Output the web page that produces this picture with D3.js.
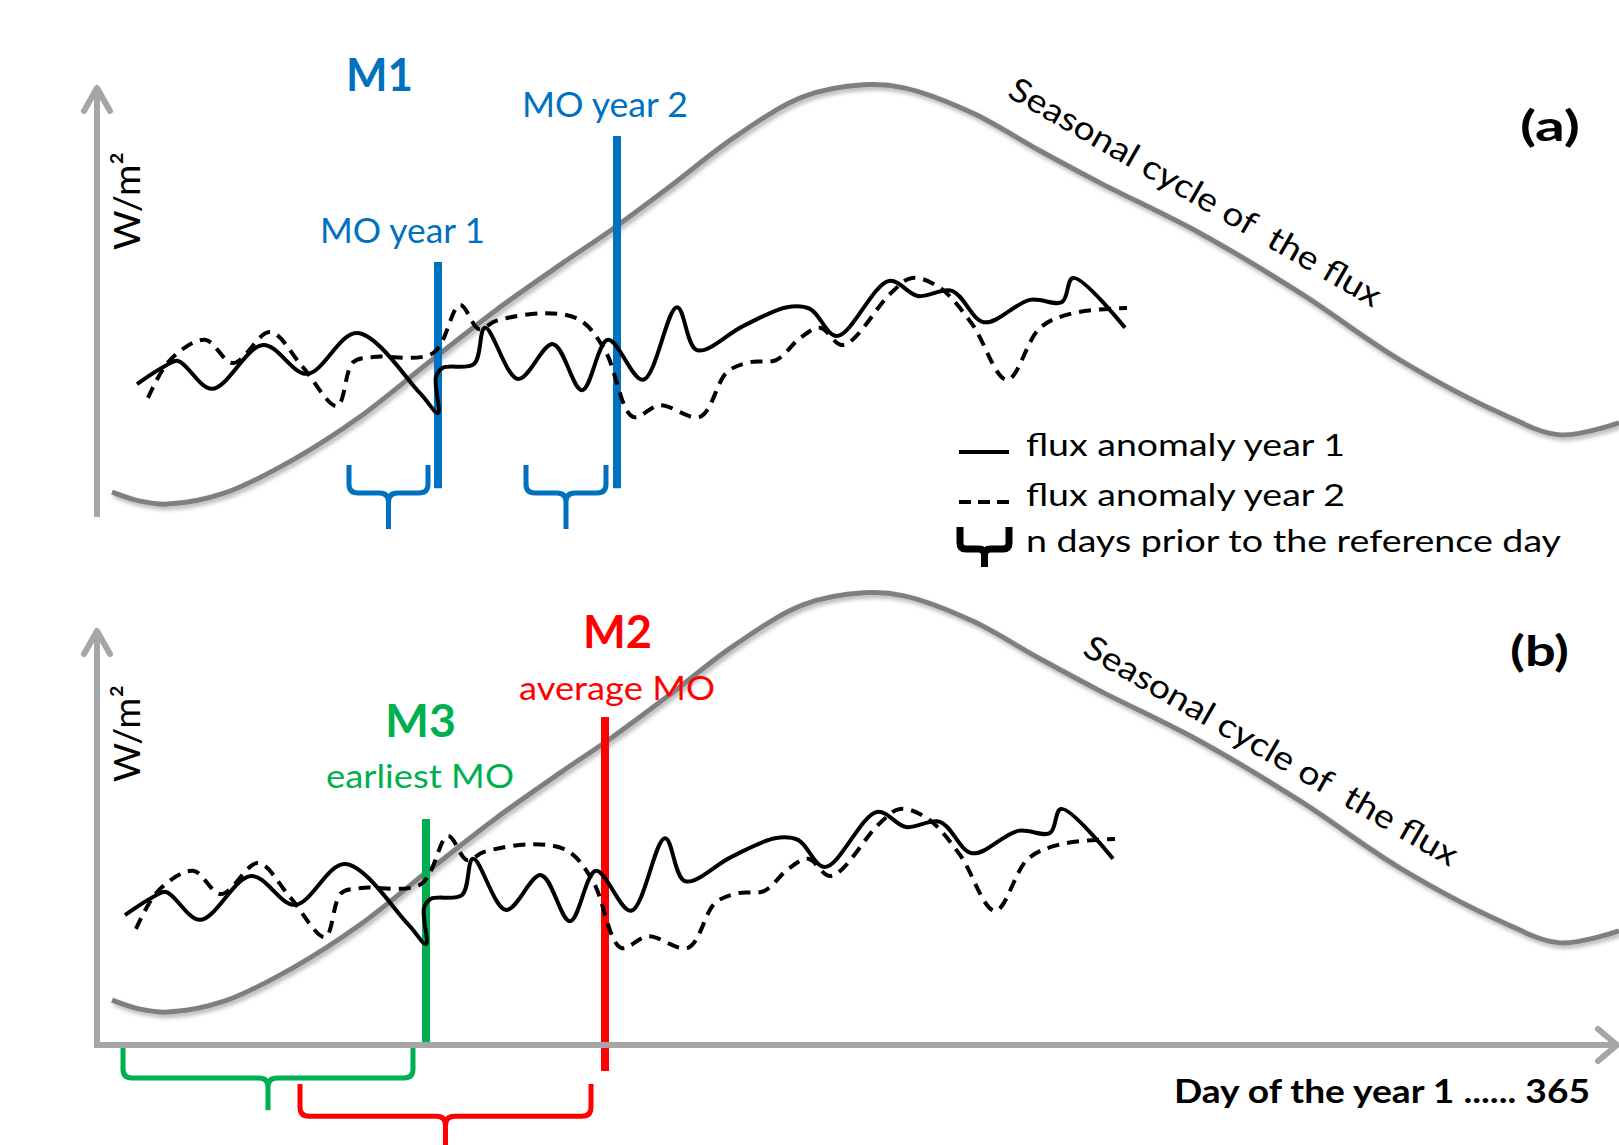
<!DOCTYPE html>
<html>
<head>
<meta charset="utf-8">
<script src="https://cdn.jsdelivr.net/npm/d3@7"></script>
<style>
  body { margin: 0; background: #fff; }
  text { font-family: Lato, "Open Sans", sans-serif; }
</style>
</head>
<body>
<div id="chart"></div>
<script>
// schematic units: x = day of the year, y = flux (W/m2, arbitrary 0-100)

// seasonal cycle of the flux
var seasonDay  = [3.75, 10.75, 17.75, 32, 49, 65.75, 82.75, 99.75, 116.5, 128.5, 142.75, 159.5,
                  176.5, 191.75, 201.75, 218.75, 235.5, 250.75, 275.75, 300.75, 325.75, 350.75, 365.75, 380.5];
var seasonFlux = [5.8, 3.7, 3.0, 5.6, 13.3, 23.3, 35.8, 48.1, 59.1, 66.7, 76.5, 88.4,
                  97.7, 100.5, 99.8, 94.0, 85.3, 77.7, 66.0, 52.1, 36.5, 24.2, 19.1, 21.9];

// flux anomaly year 1 (solid)
var year1Day  = [10, 17, 20.25, 28.75, 41.5, 52.5, 65, 80.75, 85.25, 84.75, 86.5, 94.25, 97, 105.25,
                 114, 121.25, 127.75, 136.5, 145, 150, 161.5, 172.5, 178.25, 185, 198, 205.25,
                 213.75, 221.75, 233.25, 241.25, 244, 257];
var year1Flux = [30.9, 35.1, 36.3, 29.8, 40.0, 33.3, 42.8, 28.8, 24.2, 32.6, 34.7, 35.6, 44.0, 32.1,
                 40.2, 29.5, 41.2, 31.9, 48.8, 38.8, 44.4, 48.8, 48.4, 42.1, 54.9, 51.4,
                 52.6, 45.3, 50.5, 50.0, 55.6, 44.0];

// flux anomaly year 2 (dashed)
var year2Day  = [12.75, 18.25, 27, 34, 43.25, 51.25, 60, 64, 69, 84, 90.75, 95.5, 99.75, 112.25,
                 120.75, 127, 134, 140.75, 150.75, 157.5, 163.25, 169.75, 175.75, 180.75, 186.5,
                 198.5, 203.75, 210.75, 218.75, 227.5, 235.75, 244, 257.5];
var year2Flux = [27.7, 36.5, 41.2, 35.8, 43.0, 35.1, 25.8, 36.0, 37.2, 38.1, 49.3, 43.7, 45.6, 47.4,
                 45.8, 38.8, 23.3, 26.0, 23.3, 33.7, 36.0, 36.5, 41.6, 44.0, 40.0,
                 52.1, 55.6, 53.3, 44.9, 31.9, 44.0, 47.4, 48.6];

// monsoon onset (MO) days
var moDay = [85.25, 130];          // MO year 1, MO year 2
var moTop = [59.3, 88.6];
var m3Day = 82.25, m3Top = 47.9;   // earliest MO
var m2Day = 127,   m2Top = 71.6;   // average MO

// n-day windows prior to the reference day
var bracketsA = [[63, 82.75], [107.25, 127.25]];
var bracketM3 = [6.5, 79];
var bracketM2 = [50.75, 123.5];

var legendLabels = ["flux anomaly year 1", "flux anomaly year 2", "n days prior to the reference day"];

var blue = "#0070c0", red = "#ff0000", green = "#00b050";
var axisGray = "#a6a6a6", curveGray = "#7f7f7f";

var svgWidth = 1619;
var svgHeight = 1145;

var svg = d3.select("#chart")
  .append("svg")
  .attr("width", svgWidth)
  .attr("height", svgHeight);

var defs = svg.append("defs");
defs.append("filter")
  .attr("id", "shadow")
  .attr("x", "-5%").attr("y", "-20%").attr("width", "110%").attr("height", "140%")
  .append("feDropShadow")
  .attr("dx", 2).attr("dy", 3).attr("stdDeviation", 2)
  .attr("flood-color", "#000").attr("flood-opacity", 0.3);

// scales
var x = d3.scaleLinear().domain([0, 380.5]).range([97, 1619]);
var yA = d3.scaleLinear().domain([0, 100]).range([517, 87]);
var yB = d3.scaleLinear().domain([0, 100]).range([517 + 508, 87 + 508]);

function zip(xs, ys) {
  return xs.map(function(d, i) { return [d, ys[i]]; });
}

function lineFor(yScale) {
  return d3.line()
    .x(d => x(d[0]))
    .y(d => yScale(d[1]))
    .curve(d3.curveCatmullRom.alpha(0.5));
}

function bracketPath(xl, xr, yt, yh, ytip, r) {
  var xc = (xl + xr) / 2;
  var p = d3.path();
  p.moveTo(xl, yt); p.lineTo(xl, yh - r); p.quadraticCurveTo(xl, yh, xl + r, yh);
  p.lineTo(xc - r, yh); p.quadraticCurveTo(xc, yh, xc, yh + r); p.lineTo(xc, ytip);
  p.moveTo(xr, yt); p.lineTo(xr, yh - r); p.quadraticCurveTo(xr, yh, xr - r, yh);
  p.lineTo(xc + r, yh); p.quadraticCurveTo(xc, yh, xc, yh + r);
  return p.toString();
}

function drawAnomalies(g, yScale) {
  var line = lineFor(yScale);
  g.append("path")
    .attr("d", line(zip(year2Day, year2Flux)))
    .attr("fill", "none").attr("stroke", "#000")
    .attr("stroke-width", 4).attr("stroke-dasharray", "12,8");
  g.append("path")
    .attr("d", line(zip(year1Day, year1Flux)))
    .attr("fill", "none").attr("stroke", "#000")
    .attr("stroke-width", 4).attr("stroke-linejoin", "round");
}

function drawSeason(g, yScale) {
  g.append("path")
    .attr("d", lineFor(yScale)(zip(seasonDay, seasonFlux)))
    .attr("fill", "none").attr("stroke", curveGray)
    .attr("stroke-width", 5).attr("filter", "url(#shadow)");
}

function drawYAxis(yBottom, yTip) {
  svg.append("line")
    .attr("x1", x(0)).attr("x2", x(0))
    .attr("y1", yBottom).attr("y2", yTip + 4)
    .attr("stroke", axisGray).attr("stroke-width", 6);
  svg.append("path")
    .attr("d", `M${x(0) - 13},${yTip + 25} L${x(0)},${yTip + 2} L${x(0) + 13},${yTip + 25}`)
    .attr("fill", "none").attr("stroke", axisGray)
    .attr("stroke-width", 6).attr("stroke-linejoin", "round").attr("stroke-linecap", "round");
}

function addText(str, opts) {
  var t = svg.append("text")
    .attr("x", opts.x).attr("y", opts.y)
    .attr("font-size", opts.size)
    .attr("font-weight", opts.bold ? "bold" : "normal")
    .attr("fill", opts.color || "#000")
    .attr("text-anchor", opts.anchor || "start")
    .style("white-space", "pre")
    .text(str);
  if (opts.len) t.attr("textLength", opts.len).attr("lengthAdjust", "spacingAndGlyphs");
  if (opts.transform) t.attr("transform", opts.transform);
  return t;
}

// ---------- panel (a) ----------
var gA = svg.append("g");
drawYAxis(yA(0), 86);
drawSeason(gA, yA);

moDay.forEach(function(d, i) {
  gA.append("line")
    .attr("x1", x(d)).attr("x2", x(d))
    .attr("y1", yA(moTop[i])).attr("y2", yA(6.7))
    .attr("stroke", blue).attr("stroke-width", 8);
});
drawAnomalies(gA, yA);

bracketsA.forEach(function(b) {
  gA.append("path")
    .attr("d", bracketPath(x(b[0]), x(b[1]), yA(12.1), yA(5.6), yA(-2.8), 9))
    .attr("fill", "none").attr("stroke", blue).attr("stroke-width", 5);
});

addText("M1", {x: 379.5, y: 91, size: 45, bold: true, color: blue, anchor: "middle", len: 67});
addText("MO year 2", {x: 522, y: 117, size: 34, color: blue, len: 166});
addText("MO year 1", {x: 320, y: 243, size: 34, color: blue, len: 165});
addText("(a)", {x: 1520, y: 141, size: 42, bold: true, len: 60});
addText("W/m²", {x: 0, y: 0, size: 36, len: 98, transform: "translate(140,250) rotate(-90)"});
addText("Seasonal cycle of  the flux", {x: 0, y: 0, size: 33, len: 424, transform: "translate(1006,96) rotate(30)"});

// legend
var legend = svg.append("g");
legend.append("line").attr("x1", 959).attr("x2", 1009).attr("y1", 452).attr("y2", 452)
  .attr("stroke", "#000").attr("stroke-width", 4);
legend.append("line").attr("x1", 959).attr("x2", 1009).attr("y1", 502).attr("y2", 502)
  .attr("stroke", "#000").attr("stroke-width", 4).attr("stroke-dasharray", "12,7");
legend.append("path").attr("d", bracketPath(960, 1009, 527, 549, 567, 6))
  .attr("fill", "none").attr("stroke", "#000").attr("stroke-width", 7);
var legendY = [456, 506, 552];
var legendLen = [319, 319, 535];
legendLabels.forEach(function(l, i) {
  addText(l, {x: 1026, y: legendY[i], size: 30, len: legendLen[i]});
});

// ---------- panel (b) ----------
var gB = svg.append("g");
drawYAxis(1045, 629);
// x axis
svg.append("line")
  .attr("x1", x(0) - 3).attr("x2", 1612)
  .attr("y1", 1045).attr("y2", 1045)
  .attr("stroke", axisGray).attr("stroke-width", 6);
svg.append("path")
  .attr("d", "M1598,1029 L1617,1045 L1598,1061")
  .attr("fill", "none").attr("stroke", axisGray)
  .attr("stroke-width", 6).attr("stroke-linejoin", "round").attr("stroke-linecap", "round");

drawSeason(gB, yB);

gB.append("line")
  .attr("x1", x(m3Day)).attr("x2", x(m3Day))
  .attr("y1", yB(m3Top)).attr("y2", yB(-4.7))
  .attr("stroke", green).attr("stroke-width", 8);
gB.append("line")
  .attr("x1", x(m2Day)).attr("x2", x(m2Day))
  .attr("y1", yB(m2Top)).attr("y2", yB(-10.7))
  .attr("stroke", red).attr("stroke-width", 8);

var gBA = gB.append("g").attr("transform", "translate(-12,23)");
drawAnomalies(gBA, yB);

gB.append("path")
  .attr("d", bracketPath(x(bracketM3[0]), x(bracketM3[1]), yB(-5.1), yB(-12.3), yB(-19.8), 9))
  .attr("fill", "none").attr("stroke", green).attr("stroke-width", 5);
gB.append("path")
  .attr("d", bracketPath(x(bracketM2[0]), x(bracketM2[1]), yB(-13.7), yB(-21.2), yB(-32), 9))
  .attr("fill", "none").attr("stroke", red).attr("stroke-width", 5);

addText("M2", {x: 617.5, y: 648, size: 45, bold: true, color: red, anchor: "middle", len: 69});
addText("average MO", {x: 519, y: 700, size: 33, color: red, len: 196});
addText("M3", {x: 420.5, y: 737, size: 45, bold: true, color: green, anchor: "middle", len: 71});
addText("earliest MO", {x: 326, y: 788, size: 33, color: green, len: 188});
addText("(b)", {x: 1510, y: 666, size: 42, bold: true, len: 59});
addText("W/m²", {x: 0, y: 0, size: 36, len: 97, transform: "translate(140,782) rotate(-90)"});
addText("Seasonal cycle of  the flux", {x: 0, y: 0, size: 33, len: 426, transform: "translate(1081,654) rotate(30)"});
addText("Day of the year 1 ...... 365", {x: 1174, y: 1103, size: 32, bold: true, len: 416});
</script>
</body>
</html>
